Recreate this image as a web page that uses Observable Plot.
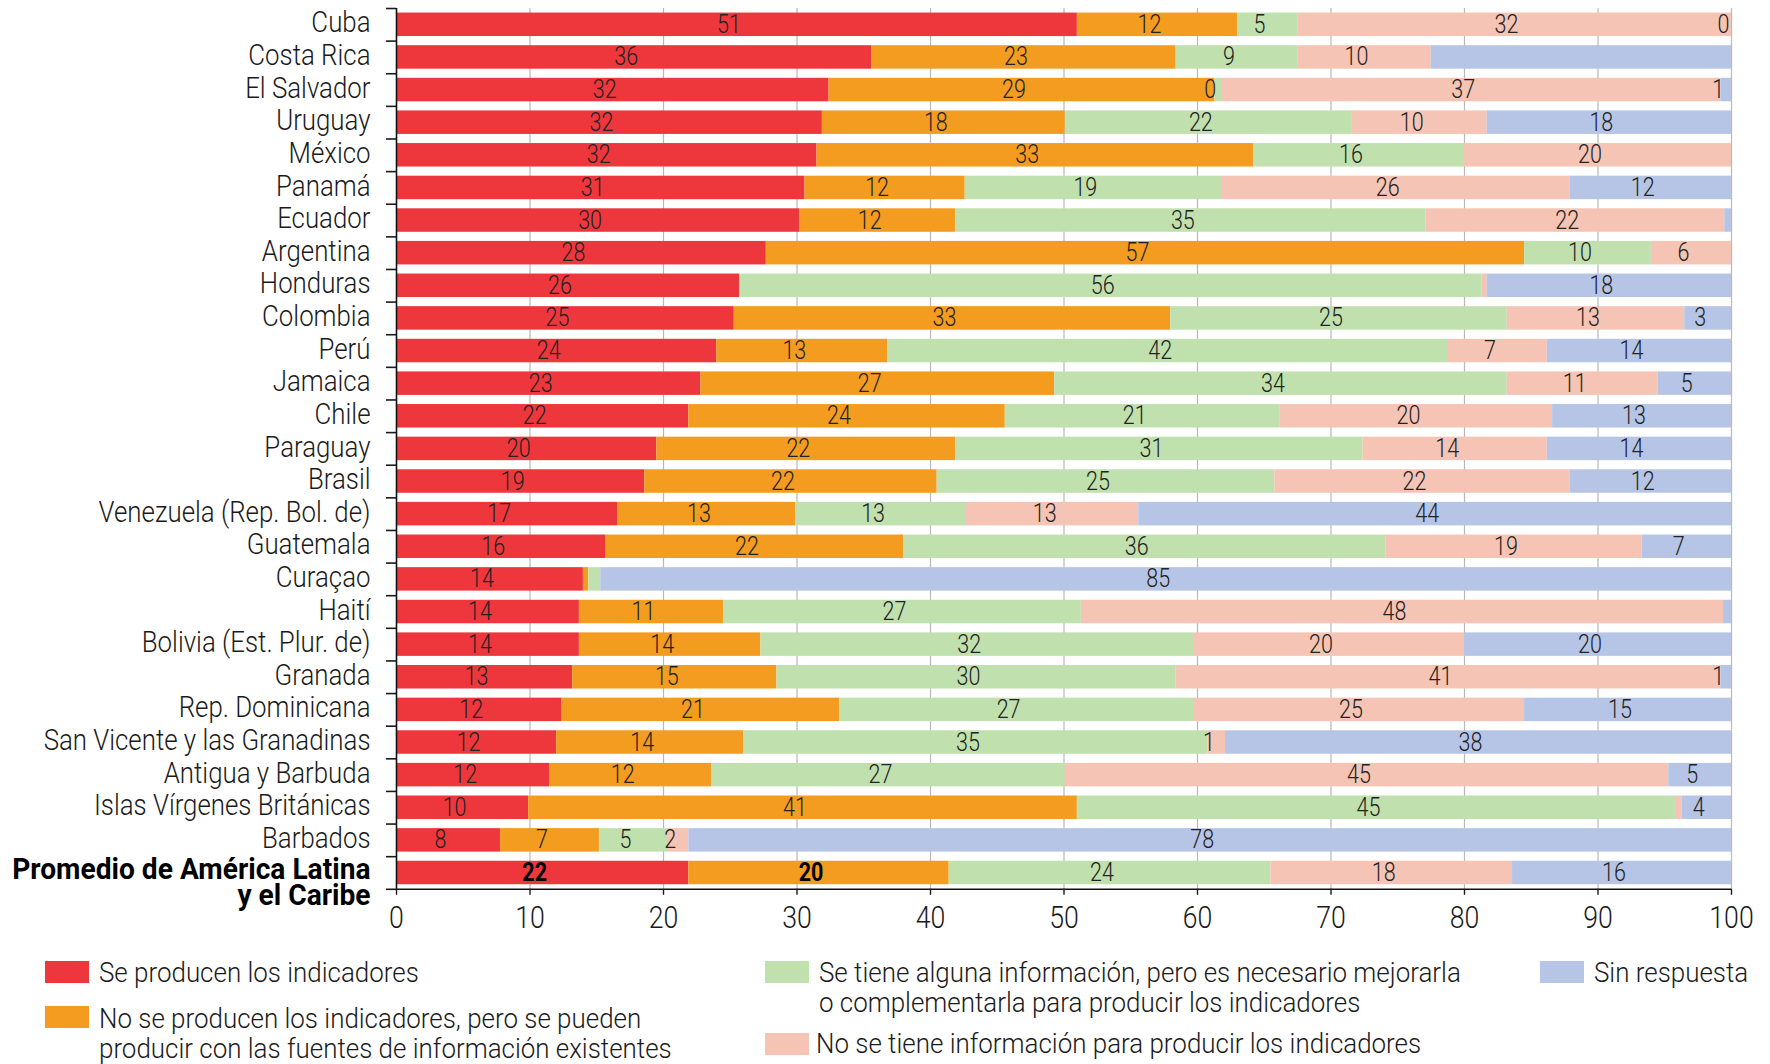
<!DOCTYPE html>
<html>
<head>
<meta charset="utf-8">
<script src="https://cdn.jsdelivr.net/npm/d3@7"></script>
<script src="https://cdn.jsdelivr.net/npm/@observablehq/plot@0.6"></script>
<style>
  html, body { margin: 0; padding: 0; background: #fff; overflow: hidden; }
  #wrap { position: relative; width: 1770px; height: 1064px; overflow: hidden;
    font-family: Roboto, "Liberation Sans", sans-serif; font-weight: 300; color: #1a1a1a; }
  #chart { position: absolute; left: 0; top: 0; }
  .lg { position: absolute; font-size: 28px; line-height: 30px; white-space: nowrap; transform-origin: 0 0; }
  .sw { position: absolute; width: 44px; height: 22px; }
</style>
</head>
<body>
<div id="wrap">
  <div id="chart"></div>
  <div id="legend"></div>
</div>
<script>
const categories = [
  "Cuba", "Costa Rica", "El Salvador", "Uruguay", "México", "Panamá", "Ecuador", "Argentina",
  "Honduras", "Colombia", "Perú", "Jamaica", "Chile", "Paraguay", "Brasil",
  "Venezuela (Rep. Bol. de)", "Guatemala", "Curaçao", "Haití", "Bolivia (Est. Plur. de)",
  "Granada", "Rep. Dominicana", "San Vicente y las Granadinas", "Antigua y Barbuda",
  "Islas Vírgenes Británicas", "Barbados", "Promedio de América Latina\ny el Caribe"
];
const seriesNames = [
  "Se producen los indicadores",
  "No se producen los indicadores, pero se pueden\nproducir con las fuentes de información existentes",
  "Se tiene alguna información, pero es necesario mejorarla\no complementarla para producir los indicadores",
  "No se tiene información para producir los indicadores",
  "Sin respuesta"
];
const seriesColors = ["#ee373c", "#f49c1f", "#c0e0ae", "#f5c4b4", "#b6c5e6"];

// segment widths (percent)
const producen   = [51.0, 35.6, 32.4, 31.9, 31.5, 30.6, 30.2, 27.7, 25.7, 25.3, 24.0, 22.8, 21.9, 19.5, 18.6, 16.6, 15.7, 14.0, 13.7, 13.7, 13.2, 12.4, 12.0, 11.5, 9.9, 7.8, 21.9];
const sePueden   = [12.0, 22.8, 28.9, 18.2, 32.7, 12.0, 11.7, 56.8, 0.0, 32.7, 12.8, 26.5, 23.7, 22.4, 21.9, 13.3, 22.3, 0.4, 10.8, 13.6, 15.3, 20.8, 14.0, 12.1, 41.1, 7.4, 19.5];
const mejorar    = [4.5, 9.1, 0.5, 21.5, 15.8, 19.2, 35.2, 9.5, 55.6, 25.2, 42.0, 33.9, 20.6, 30.5, 25.3, 12.8, 36.1, 0.9, 26.8, 32.4, 29.9, 26.5, 34.8, 26.5, 44.8, 5.1, 24.1];
const sinInfo    = [32.5, 10.0, 37.4, 10.1, 20.0, 26.1, 22.4, 6.0, 0.4, 13.3, 7.4, 11.3, 20.4, 13.8, 22.1, 12.9, 19.2, 0.0, 48.1, 20.3, 40.8, 24.8, 1.3, 45.2, 0.5, 1.6, 18.1];
const sinResp    = [0.0, 22.5, 0.8, 18.3, 0.0, 12.1, 0.5, 0.0, 18.3, 3.5, 13.8, 5.5, 13.4, 13.8, 12.1, 44.4, 6.7, 84.7, 0.6, 20.0, 0.8, 15.5, 37.9, 4.7, 3.7, 78.1, 16.4];

// printed labels (null = no label shown)
const producenLabels = [51, 36, 32, 32, 32, 31, 30, 28, 26, 25, 24, 23, 22, 20, 19, 17, 16, 14, 14, 14, 13, 12, 12, 12, 10, 8, 22];
const sePuedenLabels = [12, 23, 29, 18, 33, 12, 12, 57, null, 33, 13, 27, 24, 22, 22, 13, 22, null, 11, 14, 15, 21, 14, 12, 41, 7, 20];
const mejorarLabels  = [5, 9, 0, 22, 16, 19, 35, 10, 56, 25, 42, 34, 21, 31, 25, 13, 36, null, 27, 32, 30, 27, 35, 27, 45, 5, 24];
const sinInfoLabels  = [32, 10, 37, 10, 20, 26, 22, 6, null, 13, 7, 11, 20, 14, 22, 13, 19, null, 48, 20, 41, 25, 1, 45, null, 2, 18];
const sinRespLabels  = [0, null, 1, 18, null, 12, null, null, 18, 3, 14, 5, 13, 14, 12, 44, 7, 85, null, 20, 1, 15, 38, 5, 4, 78, 16];

const xTicks = [0, 10, 20, 30, 40, 50, 60, 70, 80, 90, 100];

const seriesValues = [producen, sePueden, mejorar, sinInfo, sinResp];
const seriesLabels = [producenLabels, sePuedenLabels, mejorarLabels, sinInfoLabels, sinRespLabels];
const table = [];
seriesNames.forEach((s, j) => categories.forEach((c, i) => {
  table.push({country: c, series: s, si: j, value: seriesValues[j][i], label: seriesLabels[j][i]});
}));

const FONT = 'Roboto, "Liberation Sans", sans-serif';
const avg = categories[categories.length - 1];
const isBold = d => d.country === avg && d.si < 2;

const marginTop = 8, plotBottom = 888.8, H = 940;
const step = (plotBottom - marginTop) / categories.length;

const chart = Plot.plot({
  width: 1770,
  height: H,
  marginLeft: 396,
  marginRight: 39,
  marginTop: marginTop,
  marginBottom: H - plotBottom,
  style: {fontFamily: FONT, fontWeight: 300, fontSize: "25px", color: "#1a1a1a", background: "white", overflow: "visible"},
  x: {domain: [0, 100], label: null},
  y: {domain: categories, paddingInner: 0.28, paddingOuter: 0.14, round: false, label: null},
  color: {domain: seriesNames, range: seriesColors},
  marks: [
    Plot.ruleX(xTicks.slice(1), {stroke: "#b8b8b8", strokeWidth: 1.2}),
    Plot.barX(table, Plot.stackX({x: "value", y: "country", z: "series", fill: "series"})),
    Plot.text(table, Plot.stackX({x: "value", y: "country", z: "series",
      text: d => (isBold(d) || d.label == null) ? null : String(d.label),
      fontSize: 25, fill: "#222", dx: -8})),
    Plot.text(table, Plot.stackX({x: "value", y: "country", z: "series",
      text: d => isBold(d) ? String(d.label) : null,
      fontSize: 25, fontWeight: "bold", fill: "#000", dx: -8})),
    Plot.ruleX([0], {stroke: "#111", strokeWidth: 1.6}),
    Plot.ruleY([avg], {y: d => d, dy: step / 2, stroke: "#111", strokeWidth: 1.6}),
    Plot.axisX({ticks: xTicks, tickSize: 6, tickPadding: 11, fontSize: 31, label: null, strokeWidth: 1.4}),
    Plot.axisY({tickSize: 10, fill: "none", dy: -step / 2, label: null, strokeWidth: 1.6}),
    Plot.axisY({ticks: [avg], tickSize: 10, fill: "none", dy: step / 2, label: null, strokeWidth: 1.6}),
    Plot.axisY({ticks: categories.slice(0, -1), tickSize: 0, tickPadding: 26, fontSize: 30, dy: -2, label: null}),
    Plot.text([avg], {y: d => d, x: 0, dx: -26, text: d => d, textAnchor: "end", lineAnchor: "middle",
      lineHeight: 0.85, dy: 11, fontSize: 30, fontWeight: "bold", fill: "#000"})
  ]
});
document.getElementById("chart").appendChild(chart);

// condense all texts horizontally (the reference uses a condensed face)
const texts = Array.from(chart.querySelectorAll("text"));
const probe = texts.find(t => t.textContent === "San Vicente y las Granadinas");
const squeeze = probe ? Math.min(1, 327 / probe.getComputedTextLength()) : 0.8;
texts.forEach(t => {
  const f = t.textContent.startsWith("Promedio") ? squeeze * 1.09 : squeeze;
  const tr = t.getAttribute("transform") || "";
  t.setAttribute("transform", `${tr} scale(${f},1)`);
});

// legend
const legendPos = [
  {sx: 45, sy: 961, tx: 99, ty: 958},
  {sx: 45, sy: 1006, tx: 99, ty: 1004},
  {sx: 765, sy: 961, tx: 819, ty: 958},
  {sx: 765, sy: 1033, tx: 816, ty: 1029},
  {sx: 1540, sy: 961, tx: 1594, ty: 958}
];
const legend = document.getElementById("legend");
seriesNames.forEach((name, j) => {
  const p = legendPos[j];
  const sw = document.createElement("div");
  sw.className = "sw";
  sw.style.left = p.sx + "px"; sw.style.top = p.sy + "px"; sw.style.background = seriesColors[j];
  legend.appendChild(sw);
  const t = document.createElement("div");
  t.className = "lg";
  t.style.left = p.tx + "px"; t.style.top = p.ty + "px";
  t.style.transform = `scaleX(${squeeze * 1.075})`;
  name.split("\n").forEach((line, k) => {
    if (k) t.appendChild(document.createElement("br"));
    t.appendChild(document.createTextNode(line));
  });
  legend.appendChild(t);
});
</script>
</body>
</html>
